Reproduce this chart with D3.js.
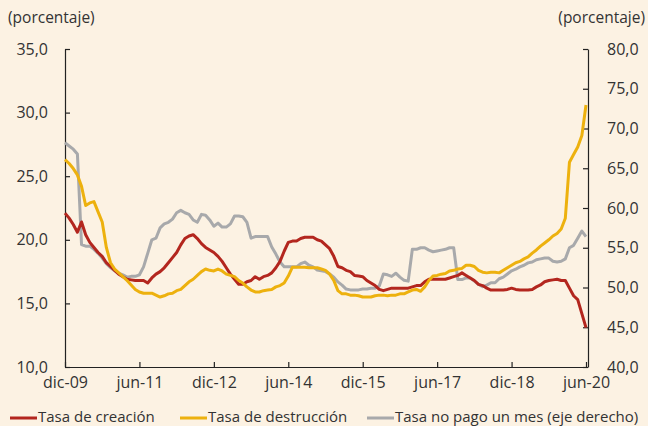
<!DOCTYPE html>
<html><head><meta charset="utf-8">
<script src="https://cdn.jsdelivr.net/npm/d3@7"></script>
<style>
html,body{margin:0;padding:0;background:#FCF2E3;}
svg{display:block;}
text{font-family:"Open Sans",sans-serif;fill:#333;}
</style></head>
<body>
<svg id="c" width="648" height="426"></svg>
<script>
// Monthly data, dic-09 .. jun-20 (127 months)
const tickLabels = ["dic-09","jun-11","dic-12","jun-14","dic-15","jun-17","dic-18","jun-20"];
const tickIndex = [0,18,36,54,72,90,108,126];
const seriesNames = ["Tasa de creación","Tasa de destrucción","Tasa no pago un mes (eje derecho)"];
const creacion = [22.1,21.7,21.2,20.6,21.4,20.4,19.8,19.4,19.0,18.7,18.2,17.9,17.6,17.3,17.1,16.9,16.85,16.8,16.8,16.8,16.6,17.0,17.3,17.5,17.8,18.2,18.6,19.0,19.6,20.1,20.3,20.4,20.1,19.7,19.4,19.2,19.0,18.7,18.3,17.8,17.3,16.9,16.5,16.5,16.7,16.8,17.1,16.9,17.1,17.2,17.4,17.8,18.3,19.1,19.8,19.9,19.9,20.1,20.2,20.2,20.2,20.0,19.9,19.6,19.3,18.7,17.9,17.8,17.6,17.5,17.2,17.15,17.1,16.8,16.6,16.4,16.1,16.0,16.1,16.2,16.2,16.2,16.2,16.2,16.3,16.4,16.4,16.7,16.9,16.9,16.9,16.9,16.9,17.0,17.1,17.2,17.4,17.2,17.0,16.8,16.5,16.4,16.2,16.05,16.05,16.05,16.05,16.1,16.2,16.1,16.05,16.05,16.05,16.1,16.3,16.45,16.7,16.8,16.85,16.9,16.8,16.8,16.2,15.6,15.3,14.2,13.1];
const destruccion = [26.3,26.0,25.6,25.1,24.2,22.7,22.9,23.0,22.2,21.4,19.4,18.2,17.7,17.4,17.1,16.8,16.45,16.1,15.9,15.8,15.8,15.8,15.65,15.5,15.6,15.75,15.8,16.0,16.1,16.4,16.7,16.9,17.2,17.5,17.7,17.6,17.55,17.7,17.55,17.3,17.2,17.1,16.8,16.6,16.3,16.05,15.9,15.9,16.0,16.05,16.1,16.3,16.4,16.6,17.15,17.85,17.85,17.85,17.85,17.8,17.8,17.8,17.7,17.6,17.3,16.8,16.0,15.75,15.75,15.65,15.65,15.6,15.5,15.5,15.5,15.6,15.65,15.65,15.6,15.65,15.65,15.75,15.75,15.9,16.05,16.1,15.95,16.3,16.8,17.15,17.2,17.3,17.35,17.55,17.6,17.7,17.75,18.0,18.0,17.9,17.6,17.45,17.4,17.45,17.45,17.4,17.6,17.8,18.0,18.2,18.3,18.5,18.65,18.95,19.2,19.5,19.75,20.0,20.3,20.5,20.85,21.7,26.1,26.7,27.3,28.2,30.6];
const noPago = [68.2,67.8,67.4,66.8,55.4,55.2,55.2,54.8,54.3,53.7,53.0,52.5,52.1,51.8,51.6,51.3,51.4,51.4,51.6,52.6,54.3,56.0,56.2,57.5,58.0,58.2,58.6,59.4,59.7,59.4,59.2,58.5,58.2,59.2,59.1,58.5,57.7,58.1,57.6,57.6,58.0,59.0,59.0,58.9,58.2,56.2,56.4,56.4,56.4,56.4,55.1,54.2,53.2,52.6,52.6,52.6,52.6,53.0,53.2,52.8,52.6,52.2,52.1,52.0,51.7,51.3,50.7,50.3,49.8,49.7,49.7,49.7,49.8,49.8,49.9,49.9,50.2,51.7,51.6,51.4,51.8,51.3,50.9,50.8,54.8,54.8,55.0,55.0,54.7,54.5,54.6,54.7,54.8,55.0,55.0,51.0,51.0,51.2,51.2,50.8,50.4,50.1,50.3,50.6,50.6,51.1,51.3,51.7,52.1,52.3,52.6,52.8,53.1,53.2,53.5,53.6,53.7,53.7,53.3,53.2,53.3,53.6,55.0,55.3,56.2,57.1,56.4];
const leftTicks = [10,15,20,25,30,35];
const rightTicks = [40,45,50,55,60,65,70,75,80];

const colors = ["#B3261E","#EDB10E","#A8A9AB"];
const svg = d3.select("#c");
const L = 65, R = 588, T = 49, B = 367;
const x = d3.scaleLinear().domain([0, creacion.length - 1]).range([L, 586]);
const yL = d3.scaleLinear().domain([10, 35]).range([B, T]);
const yR = d3.scaleLinear().domain([40, 80]).range([B, T]);
const fmt = d => d3.format(".1f")(d).replace(".", ",");

// axes
const axL = svg.append("g").attr("transform", `translate(${L},0)`)
  .call(d3.axisLeft(yL).tickValues(leftTicks).tickFormat(fmt).tickSizeInner(-5).tickSizeOuter(0).tickPadding(17));
const axR = svg.append("g").attr("transform", `translate(${R},0)`)
  .call(d3.axisRight(yR).tickValues(rightTicks).tickFormat(fmt).tickSizeInner(-5).tickSizeOuter(0).tickPadding(19));
const axX = svg.append("g").attr("transform", `translate(0,${B})`)
  .call(d3.axisBottom(x).tickValues(tickIndex).tickFormat((d, i) => tickLabels[i]).tickSizeInner(-5).tickSizeOuter(0).tickPadding(10));
axX.select(".domain").attr("d", `M${L},0.5H${R}`);
[axL, axR, axX].forEach(g => {
  g.selectAll(".domain, .tick line").attr("stroke", "#222").attr("stroke-width", 1.2);
  g.selectAll("text").attr("font-family", "Open Sans").attr("font-size", 16).attr("fill", "#3a3a3a");
});

// lines
const lineL = d3.line().x((d, i) => x(i)).y(d => yL(d));
const lineR = d3.line().x((d, i) => x(i)).y(d => yR(d));
svg.append("path").datum(noPago).attr("d", lineR).attr("fill", "none").attr("stroke", colors[2]).attr("stroke-width", 3).attr("stroke-linejoin", "round");
svg.append("path").datum(creacion).attr("d", lineL).attr("fill", "none").attr("stroke", colors[0]).attr("stroke-width", 3).attr("stroke-linejoin", "round");
svg.append("path").datum(destruccion).attr("d", lineL).attr("fill", "none").attr("stroke", colors[1]).attr("stroke-width", 3).attr("stroke-linejoin", "round");

// unit labels
svg.append("text").attr("x", 8).attr("y", 23).attr("font-size", 15.5).attr("fill", "#3a3a3a").text("(porcentaje)");
svg.append("text").attr("x", 645).attr("y", 23).attr("font-size", 15.5).attr("fill", "#3a3a3a").attr("text-anchor", "end").text("(porcentaje)");

// legend
const legX = [10, 180, 367];
seriesNames.forEach((n, i) => {
  svg.append("line").attr("x1", legX[i]).attr("x2", legX[i] + 27).attr("y1", 418).attr("y2", 418)
    .attr("stroke", colors[i]).attr("stroke-width", 3);
  svg.append("text").attr("x", legX[i] + 28).attr("y", 422).attr("font-size", 15).attr("fill", "#3a3a3a").text(n);
});
</script>
</body></html>
